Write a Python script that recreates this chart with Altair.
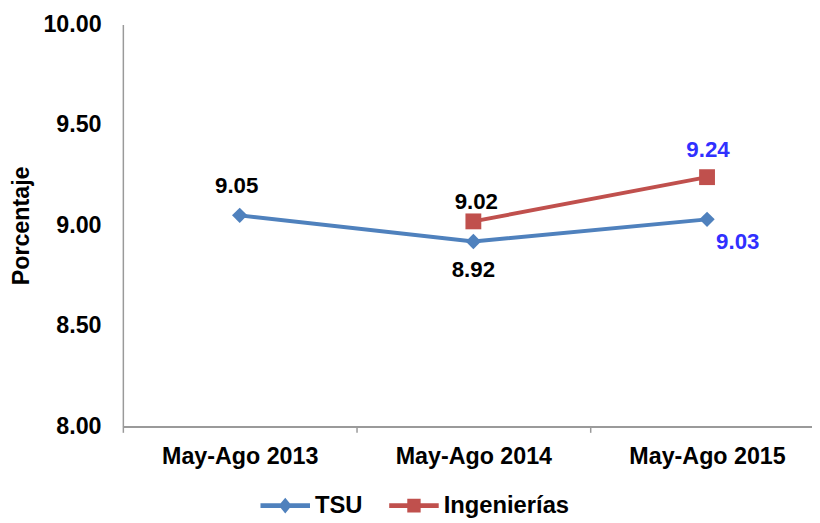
import altair as alt
import pandas as pd

# ---- data ----
periods = ["May-Ago 2013", "May-Ago 2014", "May-Ago 2015"]
series_names = ["TSU", "Ingenierías"]
tsu_values = [9.05, 8.92, 9.03]
ing_values = [None, 9.02, 9.24]
y_ticks = [8.0, 8.5, 9.0, 9.5, 10.0]

rows = []
for p, v in zip(periods, tsu_values):
    if v is not None:
        rows.append({"periodo": p, "serie": "TSU", "valor": v})
for p, v in zip(periods, ing_values):
    if v is not None:
        rows.append({"periodo": p, "serie": "Ingenierías", "valor": v})
df = pd.DataFrame(rows)

FONT = "Liberation Sans"
BLUE = "#4F81BD"
RED = "#C0504D"
LABEL_BLUE = "#3030FF"
AXIS = "#9a9a9a"

x = alt.X(
    "periodo:N",
    sort=periods,
    scale=alt.Scale(type="band", range=[0, 708], paddingInner=0, paddingOuter=0),
    axis=alt.Axis(
        title=None, labelAngle=0, labelFont=FONT, labelFontSize=23.5,
        labelFontWeight="bold", labelColor="black", labelPadding=12,
        labelBaseline="top", tickBand="extent", ticks=True, tickSize=6,
        tickColor=AXIS, tickWidth=1.5, domainColor=AXIS, domainWidth=2,
        grid=False,
    ),
)
y = alt.Y(
    "valor:Q",
    scale=alt.Scale(domain=[8, 10], nice=False, zero=False),
    axis=alt.Axis(
        values=y_ticks, format=".2f", title="Porcentaje", titleFont=FONT,
        titleFontSize=23.5, titleFontWeight="bold", titleColor="black",
        titleAngle=-90, titleX=-102, titleY=203, titleAlign="center",
        titleBaseline="middle", labelFont=FONT, labelFontSize=23.5,
        labelFontWeight="bold", labelColor="black", labelPadding=22,
        ticks=False, tickSize=0, domainColor=AXIS, domainWidth=1.5, grid=False,
    ),
)

base = alt.Chart(df)

line_tsu = base.transform_filter(alt.datum.serie == "TSU").mark_line(
    color=BLUE, strokeWidth=4).encode(x=x, y=y)
line_ing = base.transform_filter(alt.datum.serie == "Ingenierías").mark_line(
    color=RED, strokeWidth=4).encode(x=x, y=y)
pts_tsu = base.transform_filter(alt.datum.serie == "TSU").mark_point(
    shape="diamond", filled=True, size=240, color=BLUE, opacity=1).encode(x=x, y=y)
pts_ing = base.transform_filter(alt.datum.serie == "Ingenierías").mark_point(
    shape="square", filled=True, size=256, color=RED, opacity=1).encode(x=x, y=y)

TSU_PATH = "M-1,-0.1H1V0.1H-1Z M0,-0.32L0.26,0L0,0.32L-0.26,0Z"
ING_PATH = "M-1,-0.1H1V0.1H-1Z M-0.27,-0.28H0.27V0.28H-0.27Z"

legend_kw = dict(
    title=None, orient="none", legendX=139, legendY=461, direction="horizontal",
    symbolSize=2500, symbolStrokeWidth=0, symbolOpacity=1, labelFont=FONT,
    labelFontSize=24, labelFontWeight="bold", labelColor="black",
    labelOffset=5, columnPadding=27, padding=0,
)
legend_layer = base.mark_point(filled=True, opacity=0).encode(
    x=x, y=y,
    color=alt.Color("serie:N", sort=series_names,
                    scale=alt.Scale(domain=series_names, range=[BLUE, RED]),
                    legend=alt.Legend(**legend_kw)),
    shape=alt.Shape("serie:N", sort=series_names,
                    scale=alt.Scale(domain=series_names, range=[TSU_PATH, ING_PATH]),
                    legend=alt.Legend(**legend_kw)),
)

# data-label placement: (serie, periodo, dx, dy, colour)
label_specs = [
    ("TSU", "May-Ago 2013", -3, -23, "black"),
    ("TSU", "May-Ago 2014", 0, 36, "black"),
    ("TSU", "May-Ago 2015", 31, 30, LABEL_BLUE),
    ("Ingenierías", "May-Ago 2014", 3, -12, "black"),
    ("Ingenierías", "May-Ago 2015", 1, -20, LABEL_BLUE),
]
text_layers = []
for s, p, dx, dy, col in label_specs:
    text_layers.append(
        base.transform_filter((alt.datum.serie == s) & (alt.datum.periodo == p))
        .mark_text(dx=dx, dy=dy, baseline="alphabetic", align="center",
                   font=FONT, fontSize=22.5, fontWeight="bold", color=col)
        .encode(x=x, y=y, text=alt.Text("valor:Q", format=".2f"))
    )

chart = alt.layer(
    line_tsu, line_ing, pts_tsu, pts_ing, legend_layer, *text_layers
).properties(
    width=696, height=406,
    autosize=alt.AutoSizeParams(type="none"),
    padding={"left": 116, "top": 14, "right": 0, "bottom": 95},
).configure_view(stroke=None)

chart.save("out.html", embed_options={"renderer": "svg", "actions": False})
